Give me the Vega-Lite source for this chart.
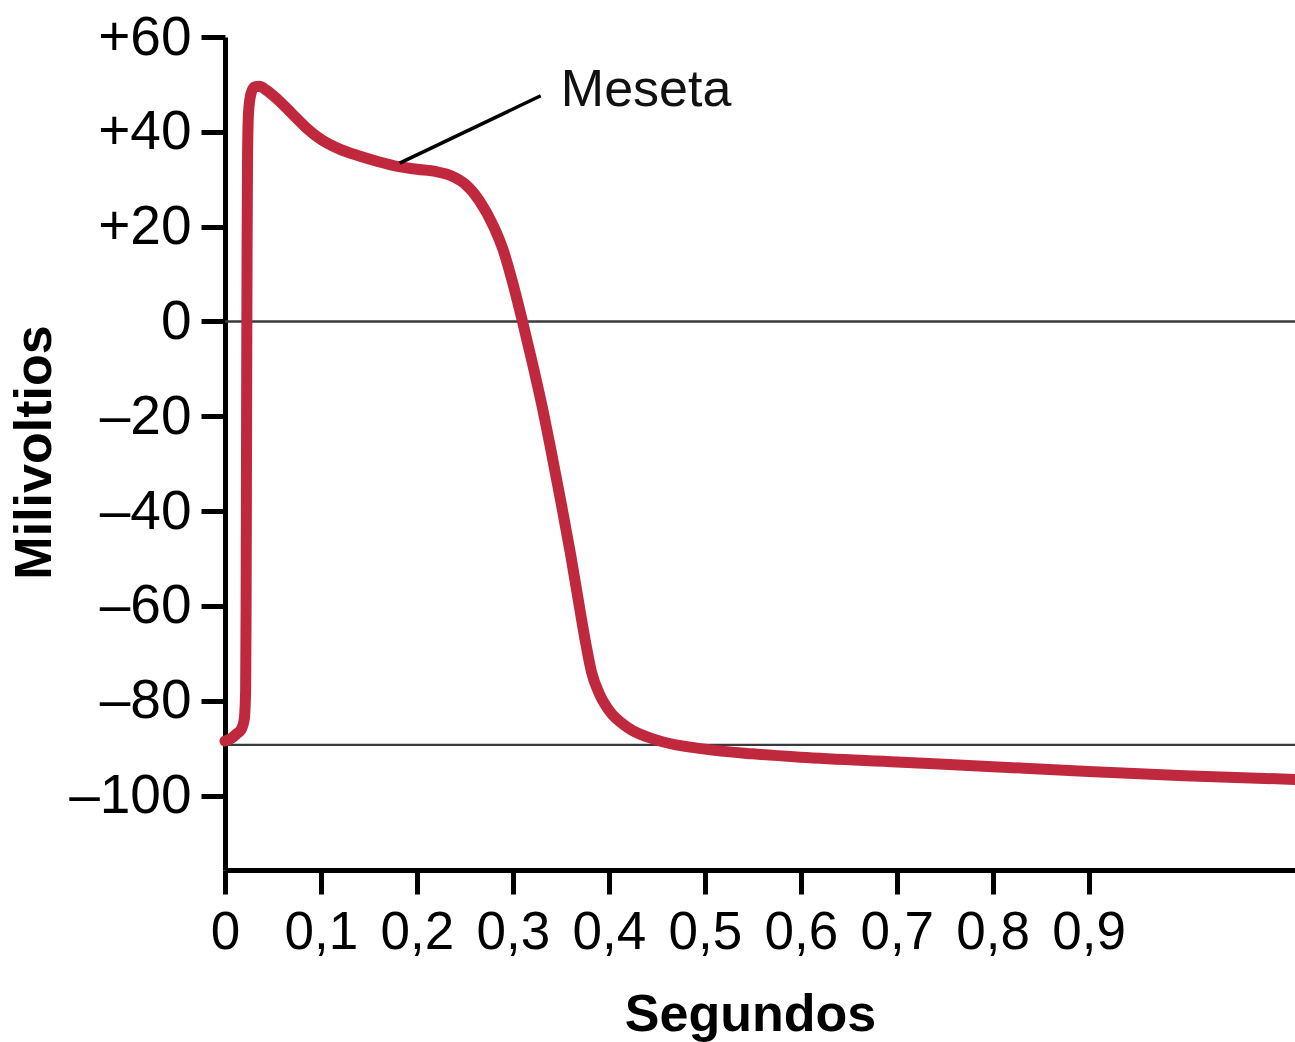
{
  "$schema": "https://vega.github.io/schema/vega-lite/v6.json",
  "width": 1070,
  "height": 833,
  "autosize": {"type": "none"},
  "padding": {"left": 225, "top": 37, "right": 0, "bottom": 172},
  "background": "white",
  "config": {
    "view": {"stroke": null},
    "font": "Liberation Sans",
    "axis": {"grid": false}
  },
  "datasets": {
    "curve": [
      {"t": 0, "mv": -88.5},
      {"t": 0.006, "mv": -88},
      {"t": 0.012, "mv": -87},
      {"t": 0.017, "mv": -86},
      {"t": 0.02, "mv": -84},
      {"t": 0.0215, "mv": -78},
      {"t": 0.022, "mv": -60},
      {"t": 0.0225, "mv": -20},
      {"t": 0.023, "mv": 15},
      {"t": 0.0235, "mv": 35},
      {"t": 0.0245, "mv": 44},
      {"t": 0.027, "mv": 48},
      {"t": 0.031, "mv": 49.5},
      {"t": 0.036, "mv": 49.6},
      {"t": 0.043, "mv": 48.8},
      {"t": 0.055, "mv": 46.8},
      {"t": 0.07, "mv": 43.8},
      {"t": 0.085, "mv": 40.8},
      {"t": 0.1, "mv": 38.4},
      {"t": 0.12, "mv": 36.3},
      {"t": 0.14, "mv": 34.9},
      {"t": 0.16, "mv": 33.7},
      {"t": 0.18, "mv": 32.7},
      {"t": 0.2, "mv": 32.1},
      {"t": 0.22, "mv": 31.6},
      {"t": 0.235, "mv": 30.8},
      {"t": 0.25, "mv": 29},
      {"t": 0.265, "mv": 25.5},
      {"t": 0.28, "mv": 20},
      {"t": 0.29, "mv": 15},
      {"t": 0.3, "mv": 8},
      {"t": 0.31, "mv": 0},
      {"t": 0.32, "mv": -8.5},
      {"t": 0.33, "mv": -17.5},
      {"t": 0.34, "mv": -27.5},
      {"t": 0.35, "mv": -38},
      {"t": 0.36, "mv": -49},
      {"t": 0.37, "mv": -61},
      {"t": 0.376, "mv": -68},
      {"t": 0.382, "mv": -74},
      {"t": 0.39, "mv": -78.5},
      {"t": 0.4, "mv": -82},
      {"t": 0.42, "mv": -85.7},
      {"t": 0.45, "mv": -88.3},
      {"t": 0.5, "mv": -90.2},
      {"t": 0.55, "mv": -91.2},
      {"t": 0.6, "mv": -91.9},
      {"t": 0.7, "mv": -92.9},
      {"t": 0.8, "mv": -93.9},
      {"t": 0.9, "mv": -94.9},
      {"t": 1.0, "mv": -95.8},
      {"t": 1.115, "mv": -96.6}
    ],
    "hlines": [{"mv": 0}, {"mv": -89.3}],
    "leader": [{"t": 0.182, "mv": 33.4, "t2": 0.329, "mv2": 47.6}],
    "label": [{"t": 0.35, "mv": 48.9, "text": "Meseta"}]
  },
  "layer": [
    {
      "data": {"name": "hlines"},
      "mark": {"type": "rule", "color": "#3a3a3a", "strokeWidth": 2.4},
      "encoding": {
        "y": {"field": "mv", "type": "quantitative", "scale": {"domain": [-115.7, 60], "nice": false, "zero": false}}
      }
    },
    {
      "data": {"name": "curve"},
      "mark": {"type": "line", "color": "#c0283e", "strokeWidth": 11, "interpolate": "monotone", "strokeCap": "round", "strokeJoin": "round"},
      "encoding": {
        "x": {
          "field": "t",
          "type": "quantitative",
          "scale": {"domain": [0, 1.115], "nice": false, "zero": false},
          "axis": {
            "values": [0, 0.1, 0.2, 0.3, 0.4, 0.5, 0.6, 0.7, 0.8, 0.9],
            "labelExpr": "datum.value == 0 ? '0' : replace(format(datum.value, '.1f'), '.', ',')",
            "labelFontSize": 53,
            "labelColor": "black",
            "labelPadding": 12,
            "labelFont": "Liberation Sans",
            "domainColor": "black",
            "domainWidth": 5,
            "tickColor": "black",
            "tickWidth": 5,
            "tickSize": 24,
            "title": "Segundos",
            "titleFont": "Liberation Sans",
            "titleFontSize": 52,
            "titleFontWeight": "bold",
            "titleColor": "black",
            "titleX": 525,
            "titleY": 160,
            "titleBaseline": "alphabetic",
            "titleAlign": "center",
            "labelFlush": false,
            "labelOverlap": false
          }
        },
        "y": {
          "field": "mv",
          "type": "quantitative",
          "scale": {"domain": [-115.7, 60], "nice": false, "zero": false},
          "axis": {
            "values": [60, 40, 20, 0, -20, -40, -60, -80, -100],
            "labelExpr": "datum.value > 0 ? '+' + datum.value : (datum.value < 0 ? '–' + abs(datum.value) : '0')",
            "labelFontSize": 55,
            "labelColor": "black",
            "labelPadding": 10,
            "labelFont": "Liberation Sans",
            "labelFlush": false,
            "labelOverlap": false,
            "domainColor": "black",
            "domainWidth": 5,
            "tickColor": "black",
            "tickWidth": 5,
            "tickSize": 24,
            "title": "Milivoltios",
            "titleFont": "Liberation Sans",
            "titleFontSize": 52,
            "titleFontWeight": "bold",
            "titleColor": "black",
            "titleAngle": -90,
            "titleX": -175,
            "titleY": 415,
            "titleBaseline": "alphabetic",
            "titleAlign": "center"
          }
        },
        "order": {"field": "t", "type": "quantitative"}
      }
    },
    {
      "data": {"name": "leader"},
      "mark": {"type": "rule", "color": "black", "strokeWidth": 3.5},
      "encoding": {
        "x": {"field": "t", "type": "quantitative"},
        "y": {"field": "mv", "type": "quantitative"},
        "x2": {"field": "t2"},
        "y2": {"field": "mv2"}
      }
    },
    {
      "data": {"name": "label"},
      "mark": {"type": "text", "align": "left", "baseline": "middle", "fontSize": 52, "font": "Liberation Sans", "color": "#111"},
      "encoding": {
        "x": {"field": "t", "type": "quantitative"},
        "y": {"field": "mv", "type": "quantitative"},
        "text": {"field": "text"}
      }
    }
  ]
}
